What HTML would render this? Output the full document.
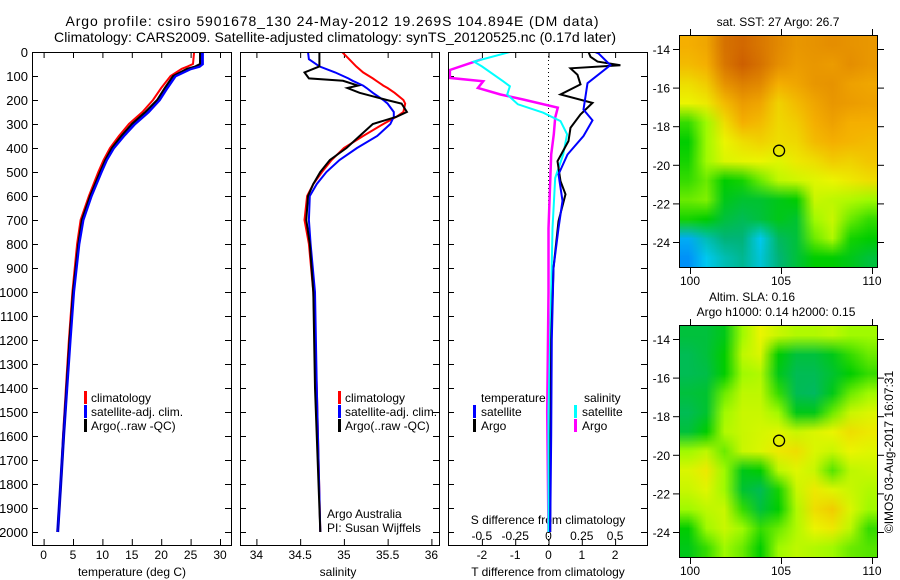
<!DOCTYPE html>
<html><head><meta charset="utf-8">
<style>
html,body{margin:0;padding:0;background:#fff;}
#wrap{position:relative;width:900px;height:580px;overflow:hidden;font-family:"Liberation Sans",sans-serif;}
canvas{position:absolute;}
svg{position:absolute;left:0;top:0;}
</style></head>
<body>
<div id="wrap">
<canvas id="sstMap" width="11" height="12" style="left:679px;top:35px;width:198px;height:232px;"></canvas>
<canvas id="slaMap" width="11" height="12" style="left:679px;top:325px;width:198px;height:232px;"></canvas>
<svg id="fig" width="900" height="580" xmlns="http://www.w3.org/2000/svg" font-family="Liberation Sans, sans-serif"></svg>
</div>
<script>
// ---- data ----
const tDepth=[0,50,60,70,100,150,200,250,300,350,400,450,500,600,700,800,1000,1200,1400,1600,1800,2000];
const tArgo=[26.6,26.6,25.8,24.4,22.0,20.6,19.3,17.3,15.0,13.2,11.6,10.5,9.6,7.9,6.5,5.9,5.0,4.4,3.9,3.4,2.9,2.4];
const tClim=[25.6,25.4,24.5,23.5,21.6,20.0,18.6,16.8,14.5,12.8,11.3,10.2,9.3,7.7,6.3,5.7,4.9,4.3,3.8,3.3,2.9,2.4];
const tSat=[27.0,27.0,26.5,25.0,22.4,21.0,19.7,17.8,15.5,13.6,11.9,10.7,9.8,8.1,6.7,6.0,5.1,4.5,3.95,3.4,2.9,2.4];
const sDepth=[0,30,60,85,110,120,140,150,170,200,215,250,270,300,350,400,450,500,550,600,700,800,1000,1400,2000];
const sArgo=[34.72,34.72,34.72,34.55,34.6,34.99,35.16,35.04,35.18,35.49,35.66,35.72,35.6,35.33,35.18,35.03,34.84,34.73,34.65,34.59,34.57,34.61,34.65,34.67,34.73];
const sClim=[34.98,35.06,35.14,35.22,35.33,35.37,35.45,35.5,35.58,35.68,35.70,35.68,35.6,35.45,35.22,35.0,34.86,34.75,34.65,34.58,34.55,34.6,34.65,34.69,34.73];
const sSat=[34.59,34.60,34.72,34.9,35.05,35.1,35.22,35.26,35.33,35.45,35.5,35.57,35.57,35.53,35.38,35.15,34.95,34.8,34.69,34.61,34.6,34.62,34.67,34.69,34.73];
const dtArgoDepth=[0,20,40,55,68,95,135,177,212,260,316,371,455,538,593,705,900,1200,1600,2000];
const dtArgo=[1.2,1.26,1.47,2.16,0.66,0.87,0.96,0.36,1.32,0.96,0.66,0.6,0.27,0.36,0.51,0.3,0.15,0.08,0.06,0.05];
const dtSatDepth=[0,6,55,130,240,285,350,427,510,620,735,900,1200,1600,2000];
const dtSat=[1.4,1.5,1.86,1.17,1.05,1.32,1.05,0.57,0.3,0.42,0.3,0.15,0.1,0.08,0.05];
const dsArgoDepth=[30,75,108,122,150,177,198,232,273,343,427,735,1000,1500,2000];
const dsArgo=[-0.5,-0.74,-0.74,-0.49,-0.53,-0.36,-0.19,0.07,0.05,0.04,0.02,0,0,-0.01,0];
const dsSatDepth=[0,40,60,122,143,177,218,253,288,343,427,525,735,1000,1500,2000];
const dsSat=[-0.29,-0.56,-0.5,-0.34,-0.29,-0.31,-0.23,-0.04,0.09,0.14,0.11,0.05,0.03,0.02,0.0,0.0];
const depthTicks=[0,100,200,300,400,500,600,700,800,900,1000,1100,1200,1300,1400,1500,1600,1700,1800,1900,2000];
const tTicks=[0,5,10,15,20,25,30];
const sTicks=[34,34.5,35,35.5,36];
const sTickLabels=["34","34.5","35","35.5","36"];
const dTTicks=[-2,-1,0,1,2];
const dSTicks=[-0.5,-0.25,0,0.25,0.5];
const dSTickLabels=["-0.5","-0.25","0","0.25","0.5"];
const latTicks=[-14,-16,-18,-20,-22,-24];
const lonTicks=[100,105,110];
const argoLon=104.894, argoLat=-19.269;
const sstGrid=[
[.80,.82,.93,.95,.92,.88,.85,.86,.87,.86,.85],
[.78,.80,.92,.97,.93,.87,.84,.85,.84,.87,.85],
[.72,.75,.86,.90,.88,.80,.82,.85,.86,.83,.82],
[.68,.70,.78,.84,.82,.74,.78,.82,.85,.84,.83],
[.45,.55,.72,.80,.78,.73,.75,.80,.83,.80,.80],
[.40,.55,.68,.72,.74,.72,.73,.78,.80,.79,.78],
[.42,.55,.65,.67,.68,.66,.70,.72,.75,.74,.76],
[.45,.50,.40,.42,.50,.60,.63,.66,.68,.70,.72],
[.50,.52,.38,.36,.36,.38,.40,.62,.60,.58,.55],
[.42,.40,.35,.33,.35,.38,.36,.55,.62,.50,.45],
[.15,.25,.30,.30,.20,.32,.35,.50,.58,.42,.40],
[.10,.20,.25,.28,.22,.30,.35,.40,.40,.38,.35]];
const slaGrid=[
[.35,.35,.38,.55,.68,.62,.58,.58,.60,.55,.55],
[.33,.35,.40,.60,.65,.40,.35,.35,.38,.45,.50],
[.33,.34,.40,.55,.58,.38,.33,.33,.36,.40,.45],
[.35,.36,.50,.60,.60,.45,.33,.32,.38,.50,.55],
[.33,.36,.55,.62,.62,.55,.38,.38,.50,.62,.65],
[.35,.40,.58,.62,.64,.66,.62,.65,.68,.72,.70],
[.55,.60,.50,.62,.65,.70,.72,.65,.62,.68,.66],
[.65,.70,.55,.38,.40,.60,.66,.62,.48,.60,.62],
[.62,.66,.55,.36,.33,.42,.62,.70,.66,.62,.58],
[.55,.60,.62,.45,.35,.40,.58,.72,.75,.65,.55],
[.40,.55,.62,.55,.45,.50,.58,.68,.70,.60,.45],
[.38,.45,.55,.50,.40,.55,.60,.58,.55,.50,.48]];

// ---- helpers ----
const NS="http://www.w3.org/2000/svg";
const svgRoot=document.getElementById('fig');
function el(tag,attrs,parent){const e=document.createElementNS(NS,tag);for(const k in attrs)e.setAttribute(k,attrs[k]);(parent||svgRoot).appendChild(e);return e;}
function txt(s,x,y,anchor,size,name,parent){const t=el('text',{x:x,y:y,'text-anchor':anchor||'start','font-size':size||12,fill:'#000'},parent);t.textContent=s;


return t;}
const Y=d=>52+0.24*d;
const yTop=52,yBot=545;
const xT=v=>43.6+5.88*v;
const xS=v=>256.4+87.5*(v-34);
const xDT=v=>548.5+33.3*v;
const xDS=v=>548.5+133.2*v;
function drawLine(xs,ds,fx,color,w,name,clip){
  const p=xs.map((v,i)=>(i?'L':'M')+fx(v).toFixed(1)+' '+Y(ds[i]).toFixed(1)).join(' ');
  const e=el('path',{d:p,fill:'none',stroke:color,'stroke-width':w,'stroke-linejoin':'miter'});
  if(clip)e.setAttribute('clip-path',clip);
  
  
}
function panelFrame(x0,x1,name){
  const r=el('rect',{x:x0+.5,y:yTop+.5,width:x1-x0,height:yBot-yTop,fill:'none',stroke:'#000','stroke-width':1});
  
  
  depthTicks.forEach(d=>{el('line',{x1:x0,x2:x0+6,y1:Y(d)+.5,y2:Y(d)+.5,stroke:'#000'});el('line',{x1:x1-6,x2:x1,y1:Y(d)+.5,y2:Y(d)+.5,stroke:'#000'});});
}
function xticks(vals,fx,labels,name,ly){
  vals.forEach((v,i)=>{const x=fx(v)+.5;el('line',{x1:x,x2:x,y1:yTop,y2:yTop+6,stroke:'#000'});el('line',{x1:x,x2:x,y1:yBot-6,y2:yBot,stroke:'#000'});
  if(labels)txt(labels[i],fx(v),ly||559,'middle',12,name);});
}
function legBar(x,y,color,name){const r=el('rect',{x:x,y:y-11,width:3,height:13,fill:color});}

// titles
txt("Argo profile: csiro 5901678_130 24-May-2012 19.269S 104.894E (DM data)",332,26,'middle',14,'title-line-1').setAttribute('textLength','533');
txt("Climatology: CARS2009. Satellite-adjusted climatology: synTS_20120525.nc (0.17d later)",335,42,'middle',14,'title-line-2').setAttribute('textLength','562');

const defsEl=el('defs',{});
const cp=el('clipPath',{id:'c3'},defsEl);el('rect',{x:449,y:53,width:198,height:492},cp);
const cp1=el('clipPath',{id:'c1'},defsEl);el('rect',{x:33,y:53,width:198,height:492},cp1);
const cp2=el('clipPath',{id:'c2'},defsEl);el('rect',{x:241,y:53,width:198,height:492},cp2);

// panel 1
panelFrame(32,231,'temperature-panel');
depthTicks.forEach(d=>txt(String(d),28,Y(d)+5,'end',13,'depth-tick-label'));
xticks(tTicks,xT,tTicks.map(String),'temperature-tick-label');
txt("temperature (deg C)",132,576,'middle',12,'temperature-axis-title');
drawLine(tClim,tDepth,xT,'#f00',2,'temperature-climatology-line','url(#c1)');
drawLine(tSat,tDepth,xT,'#00f',3,'temperature-satellite-line','url(#c1)');
drawLine(tArgo,tDepth,xT,'#000',2,'temperature-argo-line','url(#c1)');
drawLine(tSat,tDepth,xT,'#00f',1.5,'temperature-satellite-line-top','url(#c1)');
legBar(84,402,'#f00','legend-climatology-marker');txt("climatology",91,402,'start',12,'legend-climatology');
legBar(84,416,'#00f','legend-satellite-marker');txt("satellite-adj. clim.",91,416,'start',12,'legend-satellite');
legBar(84,430,'#000','legend-argo-marker');txt("Argo(..raw -QC)",91,430,'start',12,'legend-argo');

// panel 2
panelFrame(240,439,'salinity-panel');
xticks(sTicks,xS,sTickLabels,'salinity-tick-label');
txt("salinity",338,576,'middle',12,'salinity-axis-title');
drawLine(sClim,sDepth,xS,'#f00',2,'salinity-climatology-line','url(#c2)');
drawLine(sSat,sDepth,xS,'#00f',2,'salinity-satellite-line','url(#c2)');
drawLine(sArgo,sDepth,xS,'#000',2,'salinity-argo-line','url(#c2)');
legBar(338,402,'#f00','legend-climatology-marker-2');txt("climatology",345,402,'start',12,'legend-climatology-2');
legBar(338,416,'#00f','legend-satellite-marker-2');txt("satellite-adj. clim.",345,416,'start',12,'legend-satellite-2');
legBar(338,430,'#000','legend-argo-marker-2');txt("Argo(..raw -QC)",345,430,'start',12,'legend-argo-2');
txt("Argo Australia",327,518,'start',12,'credit-argo-australia');
txt("PI: Susan Wijffels",327,532,'start',12,'credit-pi');

// panel 3
panelFrame(448,647,'difference-panel');
for(let y=yTop;y<yBot;y+=4)el('rect',{x:548,y:y,width:1,height:1,fill:'#000'});
xticks(dTTicks,xDT,dTTicks.map(String),'t-diff-tick-label');
dSTickLabels.forEach((l,i)=>txt(l,xDS(dSTicks[i]),540,'middle',12,'s-diff-tick-label'));
txt("S difference from climatology",548,524,'middle',12,'s-diff-axis-title');
txt("T difference from climatology",548,576,'middle',12,'t-diff-axis-title');
drawLine(dsArgo,dsArgoDepth,xDS,'#f0f',2.5,'salinity-diff-argo-line','url(#c3)');
drawLine(dsSat,dsSatDepth,xDS,'#0ff',2,'salinity-diff-satellite-line','url(#c3)');
drawLine(dtArgo,dtArgoDepth,xDT,'#000',2,'temperature-diff-argo-line','url(#c3)');
drawLine(dtSat,dtSatDepth,xDT,'#00f',2,'temperature-diff-satellite-line','url(#c3)');
txt("temperature",481,402,'start',12,'legend-temperature-header');
txt("salinity",584,402,'start',12,'legend-salinity-header');
legBar(473,416,'#00f','legend-t-satellite-marker');txt("satellite",481,416,'start',12,'legend-t-satellite');
legBar(473,430,'#000','legend-t-argo-marker');txt("Argo",481,430,'start',12,'legend-t-argo');
legBar(574,416,'#0ff','legend-s-satellite-marker');txt("satellite",582,416,'start',12,'legend-s-satellite');
legBar(574,430,'#f0f','legend-s-argo-marker');txt("Argo",582,430,'start',12,'legend-s-argo');

// maps
const stops=[[0,[0,90,255]],[.2,[0,200,240]],[.3,[0,180,120]],[.4,[0,205,0]],[.55,[160,250,0]],[.68,[235,245,0]],[.8,[245,175,0]],[.97,[205,95,0]]];
function cmap(v){for(let i=1;i<stops.length;i++){if(v<=stops[i][0]){const a=stops[i-1],b=stops[i],t=(v-a[0])/(b[0]-a[0]);return a[1].map((c,k)=>Math.round(c+(b[1][k]-c)*t));}}return stops[stops.length-1][1];}
function drawGrid(id,grid){const c=document.getElementById(id).getContext('2d');const imd=c.createImageData(11,12);
grid.forEach((row,r)=>row.forEach((v,k)=>{const col=cmap(v),o=(r*11+k)*4;imd.data[o]=col[0];imd.data[o+1]=col[1];imd.data[o+2]=col[2];imd.data[o+3]=255;}));c.putImageData(imd,0,0);}
drawGrid('sstMap',sstGrid);drawGrid('slaMap',slaGrid);
const lonX=v=>690+18.2*(v-100);
function mapFrame(y0,name,circleName){
  const latY=v=>y0+14+19.3*(-14-v);
  const r=el('rect',{x:679.5,y:y0+.5,width:198,height:232,fill:'none',stroke:'#000'});
  
  
  latTicks.forEach(l=>{const y=latY(l)+.5;el('line',{x1:673,x2:679,y1:y,y2:y,stroke:'#000'});el('line',{x1:878,x2:884,y1:y,y2:y,stroke:'#000'});txt(String(l),670,latY(l)+5,'end',12,'latitude-tick-label');});
  lonTicks.forEach(l=>{const x=lonX(l)+.5;el('line',{x1:x,x2:x,y1:y0-6,y2:y0,stroke:'#000'});el('line',{x1:x,x2:x,y1:y0+233,y2:y0+239,stroke:'#000'});txt(String(l),lonX(l),y0+250,'middle',12,'longitude-tick-label');});
  const c=el('circle',{cx:lonX(argoLon),cy:latY(argoLat),r:5.5,fill:'none',stroke:'#000','stroke-width':1.3});
  
  
}
mapFrame(35,'sst-map-frame','sst-argo-location');
mapFrame(325,'sla-map-frame','sla-argo-location');
txt("sat. SST: 27 Argo: 26.7",778,26,'middle',12,'sst-map-title');
txt("Altim. SLA: 0.16",752,301,'middle',12,'sla-map-title');
txt("Argo h1000: 0.14 h2000: 0.15",776,316,'middle',12,'sla-map-subtitle');
const stamp=txt("\u00A9IMOS 03-Aug-2017 16:07:31",0,0,'middle',12,'timestamp-label');
stamp.setAttribute('transform','translate(893,452) rotate(-90)');
</script>
</body></html>
